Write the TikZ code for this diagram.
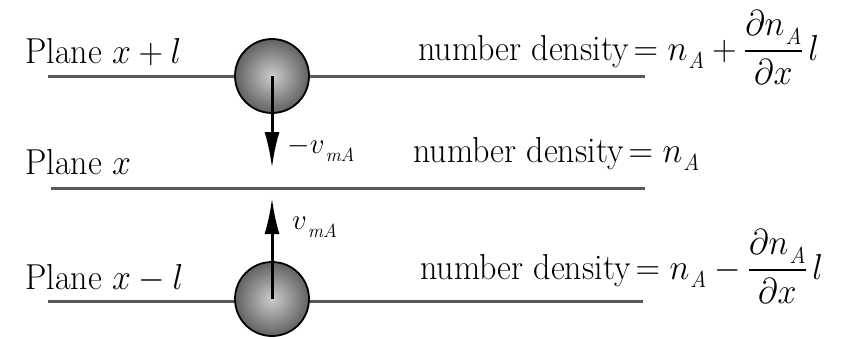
\RequirePackage{fix-cm}
\documentclass[tikz,border=0pt]{standalone}
\usepackage{amsmath}
\usepackage{fontspec}
\newfontfamily\tms{Latin Modern Roman}
\usetikzlibrary{arrows.meta}
\newcommand{\sub}[2][22]{\kern1pt\raisebox{-8pt}{\tms\fontsize{#1}{#1}\selectfont\itshape #2}}
\newcommand{\tall}[1]{\scalebox{1}[1.06]{#1}}
\tikzset{
  lbl/.style={inner sep=0pt, font=\tms\fontsize{34}{40}\selectfont},
  vlbl/.style={inner sep=0pt, font=\tms\fontsize{29}{32}\selectfont},
  plane/.style={line width=3pt, draw=black!65},
  ball/.style={circle, minimum size=74pt, inner sep=0pt, draw=black, line width=1.8pt, inner color=black!20, outer color=black!62},
  arr/.style={line width=3pt, -{Latex[length=36pt,width=15pt]}}
}
\begin{document}
\begin{tikzpicture}[x=1pt,y=-1pt]
\useasboundingbox (0,0) rectangle (849,338);
% planes
\coordinate (L1a) at (48,76);  \coordinate (L1b) at (645,76);
\coordinate (L2a) at (51,188); \coordinate (L2b) at (645,188);
\coordinate (L3a) at (48,301); \coordinate (L3b) at (643,301);
\draw[plane] (L1a) -- (L1b);
\draw[plane] (L2a) -- (L2b);
\draw[plane] (L3a) -- (L3b);
% labels
\node[lbl, anchor=base west] (p1) at (25,63) {\tall{Plane $x+l$}};
\node[lbl, anchor=base west] (p2) at (25,174) {\tall{Plane $x$}};
\node[lbl, anchor=base west] (p3) at (25,289) {\tall{Plane $x-l$}};
\node[lbl, anchor=base west] (d1) at (418,60) {\tall{number density\kern5pt$=n\sub{A}+\dfrac{\partial n\sub{A}}{\partial x}\,l$}};
\node[lbl, anchor=base west] (d2) at (413,162) {\tall{number density\kern5pt$=n\sub{A}$}};
\node[lbl, anchor=base west] (d3) at (420,279) {\tall{number density\kern5pt$=n\sub{A}-\dfrac{\partial n\sub{A}}{\partial x}\,l$}};
% spheres
\node[ball] (s1) at (272,76) {};
\node[ball] (s2) at (272,299) {};
% arrows
\coordinate (e1) at (272,168);
\coordinate (e2) at (272,198);
\draw[arr] (s1.center) -- (e1);
\draw[arr] (s2.center) -- (e2);
\node[vlbl, anchor=base west] (v1) at (287,153) {$-v$\sub[19]{mA}};
\node[vlbl, anchor=base west] (v2) at (292,229) {$v$\sub[19]{mA}};
\end{tikzpicture}
\end{document}
